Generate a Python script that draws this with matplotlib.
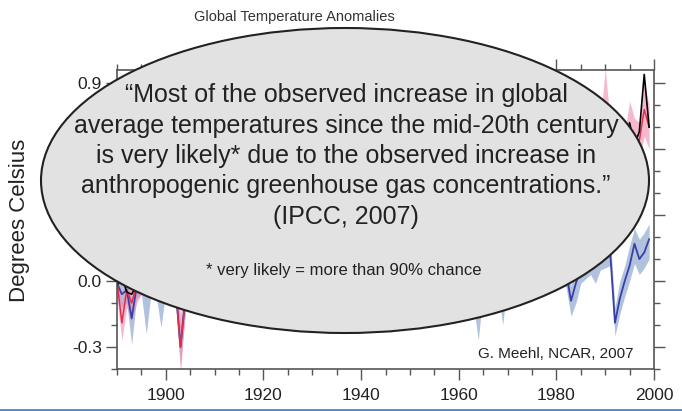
import numpy as np
import matplotlib.pyplot as plt
from matplotlib.patches import Ellipse
from matplotlib.ticker import MultipleLocator

plt.rcParams['font.family'] = ['Liberation Sans', 'DejaVu Sans']

years = np.arange(1890, 2000)

# observations (black)
obs = [
    -0.02, 0.02, -0.05, -0.06, -0.02, 0.03, 0.13, 0.16, 0.02, 0.10,
    0.17, 0.10, 0.00, -0.06, -0.10, 0.02, 0.07, -0.08, -0.12, -0.12,
    -0.10, -0.12, -0.06, -0.04, 0.13, 0.16, -0.02, -0.12, 0.02, 0.03,
    0.04, 0.12, 0.02, 0.04, 0.04, 0.09, 0.20, 0.09, 0.11, -0.05,
    0.15, 0.21, 0.15, 0.02, 0.18, 0.11, 0.16, 0.28, 0.31, 0.29,
    0.43, 0.49, 0.37, 0.40, 0.51, 0.40, 0.24, 0.28, 0.20, 0.20,
    0.14, 0.24, 0.32, 0.39, 0.18, 0.17, 0.12, 0.36, 0.37, 0.34,
    0.28, 0.37, 0.34, 0.36, 0.11, 0.20, 0.25, 0.29, 0.23, 0.36,
    0.34, 0.23, 0.32, 0.47, 0.24, 0.30, 0.21, 0.49, 0.38, 0.47,
    0.57, 0.63, 0.45, 0.62, 0.47, 0.43, 0.49, 0.63, 0.70, 0.58,
    0.76, 0.72, 0.53, 0.54, 0.62, 0.72, 0.62, 0.68, 0.94, 0.70,
]

# natural + anthropogenic ensemble (red)
allf_mean = [
    0.00, -0.19, -0.04, -0.10, -0.02, 0.02, 0.04, 0.06, 0.03, 0.05,
    0.06, 0.05, -0.03, -0.30, -0.08, 0.00, 0.03, 0.03, 0.02, 0.04,
    0.05, 0.06, 0.00, 0.03, 0.06, 0.08, 0.09, 0.10, 0.11, 0.12,
    0.12, 0.14, 0.15, 0.15, 0.16, 0.18, 0.19, 0.18, 0.20, 0.21,
    0.23, 0.24, 0.24, 0.25, 0.26, 0.27, 0.27, 0.29, 0.30, 0.31,
    0.31, 0.32, 0.30, 0.32, 0.33, 0.31, 0.30, 0.30, 0.31, 0.32,
    0.31, 0.33, 0.32, 0.33, 0.32, 0.33, 0.33, 0.35, 0.35, 0.36,
    0.37, 0.37, 0.38, 0.24, 0.22, 0.27, 0.30, 0.32, 0.31, 0.33,
    0.36, 0.38, 0.39, 0.40, 0.40, 0.42, 0.43, 0.45, 0.47, 0.49,
    0.51, 0.52, 0.48, 0.44, 0.49, 0.53, 0.56, 0.58, 0.60, 0.62,
    0.66, 0.64, 0.44, 0.50, 0.59, 0.64, 0.66, 0.64, 0.78, 0.70,
]
allf_lo = [
    -0.08, -0.27, -0.12, -0.18, -0.10, -0.06, -0.04, -0.02, -0.05, -0.03,
    -0.02, -0.03, -0.10, -0.42, -0.14, -0.08, -0.05, -0.05, -0.06, -0.04,
    -0.03, -0.02, -0.08, -0.05, -0.02, 0.00, 0.01, 0.02, 0.03, 0.04,
    0.04, 0.06, 0.07, 0.07, 0.08, 0.10, 0.11, 0.10, 0.12, 0.13,
    0.15, 0.16, 0.16, 0.17, 0.18, 0.19, 0.19, 0.21, 0.22, 0.23,
    0.23, 0.24, 0.22, 0.24, 0.25, 0.23, 0.22, 0.22, 0.23, 0.24,
    0.23, 0.25, 0.24, 0.25, 0.24, 0.25, 0.25, 0.27, 0.27, 0.28,
    0.29, 0.29, 0.30, 0.10, 0.08, 0.18, 0.22, 0.24, 0.23, 0.25,
    0.28, 0.30, 0.31, 0.32, 0.32, 0.34, 0.35, 0.37, 0.39, 0.41,
    0.43, 0.44, 0.38, 0.34, 0.40, 0.45, 0.48, 0.50, 0.52, 0.54,
    0.57, 0.56, 0.36, 0.42, 0.51, 0.56, 0.58, 0.56, 0.66, 0.60,
]
allf_hi = [
    0.08, -0.10, 0.04, -0.02, 0.06, 0.10, 0.12, 0.14, 0.11, 0.13,
    0.14, 0.13, 0.05, -0.15, 0.00, 0.08, 0.11, 0.11, 0.10, 0.12,
    0.13, 0.14, 0.08, 0.11, 0.14, 0.16, 0.17, 0.18, 0.19, 0.20,
    0.20, 0.22, 0.23, 0.23, 0.24, 0.26, 0.27, 0.26, 0.28, 0.29,
    0.31, 0.32, 0.32, 0.33, 0.34, 0.35, 0.35, 0.37, 0.38, 0.39,
    0.39, 0.40, 0.38, 0.40, 0.41, 0.39, 0.38, 0.38, 0.39, 0.40,
    0.39, 0.41, 0.40, 0.41, 0.40, 0.41, 0.41, 0.43, 0.43, 0.44,
    0.45, 0.45, 0.46, 0.34, 0.32, 0.36, 0.38, 0.40, 0.39, 0.41,
    0.44, 0.46, 0.47, 0.48, 0.48, 0.50, 0.51, 0.53, 0.55, 0.57,
    0.59, 0.60, 0.56, 0.52, 0.58, 0.61, 0.64, 0.66, 0.68, 0.71,
    0.97, 0.73, 0.52, 0.58, 0.67, 0.82, 0.74, 0.72, 0.90, 0.80,
]

# natural forcing only ensemble (blue)
nat_mean = [
    -0.01, -0.06, -0.04, -0.17, -0.03, 0.00, -0.05, 0.02, 0.01, -0.04,
    0.02, 0.03, -0.03, -0.30, -0.08, -0.01, 0.02, 0.04, 0.05, 0.05,
    0.06, 0.05, 0.00, 0.04, 0.07, 0.08, 0.08, 0.09, 0.09, 0.10,
    0.10, 0.10, 0.11, 0.11, 0.12, 0.12, 0.13, 0.12, 0.13, 0.13,
    0.14, 0.14, 0.13, 0.14, 0.15, 0.14, 0.15, 0.16, 0.15, 0.16,
    0.16, 0.15, 0.15, 0.16, 0.16, 0.15, 0.16, 0.15, 0.16, 0.15,
    0.15, 0.16, 0.15, 0.16, 0.15, 0.15, 0.14, 0.15, 0.16, 0.15,
    0.15, 0.15, 0.14, -0.02, -0.10, 0.02, 0.06, 0.08, 0.04, -0.02,
    0.06, 0.07, 0.08, 0.08, 0.06, 0.04, 0.06, 0.08, 0.09, 0.10,
    0.11, 0.12, 0.04, -0.09, -0.01, 0.06, 0.08, 0.09, 0.09, 0.10,
    0.12, 0.14, -0.19, -0.08, 0.00, 0.07, 0.17, 0.10, 0.13, 0.19,
]
nat_lo = [
    -0.06, -0.12, -0.10, -0.29, -0.08, -0.06, -0.24, -0.05, -0.06, -0.21,
    -0.05, -0.04, -0.08, -0.38, -0.14, -0.08, -0.05, -0.03, -0.02, -0.02,
    -0.01, -0.02, -0.07, -0.03, 0.00, 0.01, 0.01, 0.02, 0.02, 0.03,
    0.03, 0.03, 0.04, 0.04, 0.05, 0.05, 0.06, 0.05, 0.06, 0.06,
    0.07, 0.07, 0.06, 0.07, 0.08, 0.07, 0.08, 0.09, 0.08, 0.09,
    0.09, 0.08, 0.08, 0.09, 0.09, 0.08, 0.09, 0.08, 0.09, 0.08,
    0.08, 0.09, 0.08, 0.09, 0.08, 0.08, 0.07, 0.08, 0.09, 0.08,
    0.08, 0.08, 0.07, -0.10, -0.27, -0.05, -0.01, 0.01, -0.03, -0.20,
    -0.01, 0.00, 0.01, 0.01, -0.01, -0.03, -0.01, 0.01, 0.02, 0.03,
    0.04, 0.05, -0.03, -0.16, -0.10, -0.01, 0.01, 0.03, -0.01, 0.05,
    0.06, 0.07, -0.25, -0.15, -0.07, 0.00, 0.08, 0.03, 0.06, 0.10,
]
nat_hi = [
    0.05, 0.01, 0.03, -0.08, 0.04, 0.07, 0.03, 0.09, 0.08, 0.03,
    0.09, 0.10, 0.04, -0.20, -0.01, 0.06, 0.09, 0.11, 0.12, 0.12,
    0.13, 0.12, 0.07, 0.11, 0.14, 0.15, 0.15, 0.16, 0.16, 0.17,
    0.17, 0.17, 0.18, 0.18, 0.19, 0.19, 0.20, 0.19, 0.20, 0.20,
    0.21, 0.21, 0.20, 0.21, 0.22, 0.21, 0.22, 0.23, 0.22, 0.23,
    0.23, 0.22, 0.22, 0.23, 0.23, 0.22, 0.23, 0.22, 0.23, 0.22,
    0.22, 0.23, 0.22, 0.23, 0.22, 0.22, 0.21, 0.22, 0.23, 0.22,
    0.22, 0.22, 0.21, 0.06, 0.02, 0.09, 0.13, 0.15, 0.11, 0.08,
    0.13, 0.14, 0.15, 0.15, 0.13, 0.11, 0.13, 0.15, 0.16, 0.17,
    0.18, 0.19, 0.11, -0.02, 0.06, 0.13, 0.15, 0.16, 0.16, 0.17,
    0.19, 0.21, -0.12, 0.00, 0.07, 0.16, 0.24, 0.19, 0.22, 0.26,
]

# only these y labels sit outside the oval
y_labels = {-0.3: "-0.3", 0.0: "0.0", 0.9: "0.9"}

quote_lines = [
    "\u201cMost of the observed increase in global",
    "average temperatures since the mid-20th century",
    "is very likely* due to the observed increase in",
    "anthropogenic greenhouse gas concentrations.\u201d",
    "(IPCC, 2007)",
]

W, H = 682, 411
fig = plt.figure(figsize=(W / 100, H / 100), dpi=100)
ax = fig.add_axes([117 / W, 1 - 369 / H, 537 / W, 299 / H])

ax.fill_between(years, nat_lo, nat_hi, color='#8fa8d0', alpha=0.7, lw=0)
ax.fill_between(years, allf_lo, allf_hi, color='#f08ab0', alpha=0.6, lw=0)
ax.plot(years, nat_mean, color='#3a3fa8', lw=1.3)
ax.plot(years, allf_mean, color='#e0304a', lw=1.1)
ax.plot(years, obs, color='black', lw=1.2)

ax.set_xlim(1890, 2000)
ax.set_ylim(-0.40, 0.96)
ax.xaxis.set_major_locator(MultipleLocator(20))
ax.xaxis.set_minor_locator(MultipleLocator(5))
ax.yaxis.set_major_locator(MultipleLocator(0.3))
ax.yaxis.set_minor_locator(MultipleLocator(0.1))
ax.yaxis.set_major_formatter(
    plt.FuncFormatter(lambda v, p: y_labels.get(round(v, 1), "")))
ax.tick_params(which='both', direction='out', top=True, right=True,
               colors='#555555', labelcolor='#222222', labelsize=12.5)
ax.tick_params(which='major', length=8, width=1)
ax.tick_params(which='minor', length=4, width=1)
ax.tick_params(axis='x', pad=6)
ax.tick_params(axis='y', pad=3)
for s in ax.spines.values():
    s.set_color('#555555')
    s.set_linewidth(1.2)

ax.set_ylabel("Degrees Celsius", fontsize=16, color='#222222')
ax.yaxis.set_label_coords((30 - 117) / 537, (369 - 220) / 299)

fig.text(294 / W, 1 - 17 / H, "Global Temperature Anomalies", fontsize=10.5,
         color='#333333', ha='center', va='center')

oval = Ellipse((345 / W, 1 - 180.5 / H), 608 / W, 305 / H,
               transform=fig.transFigure, facecolor='#e2e2e3',
               edgecolor='#222222', lw=1.5, zorder=5)
fig.add_artist(oval)

for i, line in enumerate(quote_lines):
    fig.text(346 / W, 1 - (95 + 30.5 * i) / H, line, fontsize=18,
             color='#222222', ha='center', va='center', zorder=6)
fig.text(344 / W, 1 - 270 / H, "* very likely = more than 90% chance",
         fontsize=12, color='#222222', ha='center', va='center', zorder=6)

fig.text(556 / W, 1 - 354 / H, "G. Meehl, NCAR, 2007", fontsize=11,
         color='#222222', ha='center', va='center', zorder=6)

# slide border at the foot
fig.add_artist(plt.Line2D([0, 1], [1 - 409.5 / H] * 2, transform=fig.transFigure,
                          color='#4a88cc', lw=2))

fig.savefig("out.png", dpi=100)
